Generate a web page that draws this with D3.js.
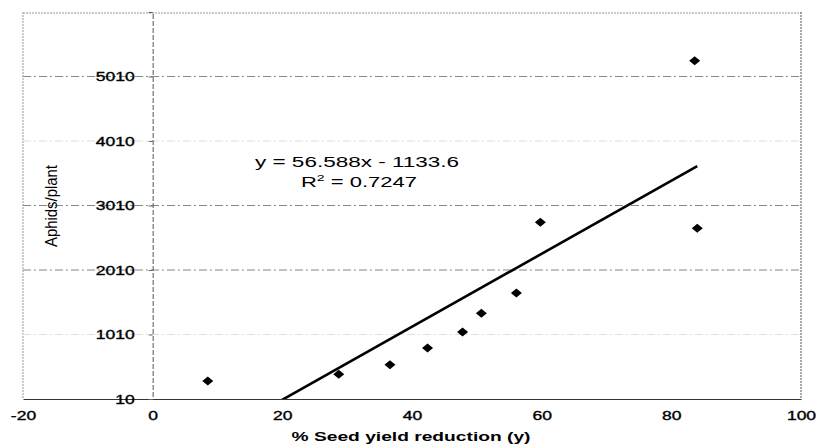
<!DOCTYPE html>
<html>
<head>
<meta charset="utf-8">
<script src="https://cdn.jsdelivr.net/npm/d3@7"></script>
<style>
  body { margin: 0; background: #fff; }
  text { font-family: "Liberation Sans", Arial, sans-serif; fill: #000; }
</style>
</head>
<body>
<div id="chart"></div>
<script>
// data
var seedLoss = [8.5, 28.7, 36.6, 42.4, 47.8, 50.7, 56.1, 59.8, 83.6, 84.0];
var aphids   = [290, 393, 542, 800, 1049, 1338, 1653, 2749, 5254, 2656];
var xTicks = [-20, 0, 20, 40, 60, 80, 100];
var yTicks = [10, 1010, 2010, 3010, 4010, 5010];
var slope = 56.588, intercept = -1133.6;
var eqText = "y = 56.588x - 1133.6";

// settings
var W = 817, H = 445;
var plotL = 23, plotR = 801, plotT = 12, plotB = 399;

var svg = d3.select("#chart").append("svg")
    .attr("width", W)
    .attr("height", H);

var x = d3.scaleLinear().domain([-20, 100]).range([plotL, plotR]);
var y = d3.scaleLinear().domain([10, 6010]).range([plotB, plotT]);

// plain hyphen for negatives, like the original
var fmt = function(d) { return String(d); };

// stretch text sideways like the scanned original
function stretch(sel, k) {
  sel.each(function() {
    var l = this.getComputedTextLength();
    this.setAttribute("textLength", l * k);
    this.setAttribute("lengthAdjust", "spacingAndGlyphs");
  });
}

// plot frame
svg.append("line").attr("x1", plotL).attr("x2", plotR).attr("y1", plotT + 1).attr("y2", plotT + 1)
  .attr("stroke", "#999").attr("stroke-dasharray", "2,1");
svg.append("line").attr("x1", plotL).attr("x2", plotL).attr("y1", plotT).attr("y2", plotB)
  .attr("stroke", "#999").attr("stroke-dasharray", "2,1");
svg.append("line").attr("x1", plotR).attr("x2", plotR).attr("y1", plotT).attr("y2", plotB)
  .attr("stroke", "#555").attr("stroke-dasharray", "2,1");

// gridlines
svg.append("g").selectAll("line")
  .data(yTicks.slice(1))
  .enter().append("line")
    .attr("x1", plotL).attr("x2", plotR)
    .attr("y1", function(d) { return y(d); })
    .attr("y2", function(d) { return y(d); })
    .attr("stroke", function(d, i) { return (i == 0 || i == 3) ? "#ddd" : "#888"; })
    .attr("stroke-dasharray", "8,3,2,3");

// x axis along the bottom
var xAxis = svg.append("g")
  .attr("transform", "translate(0," + plotB + ")")
  .call(d3.axisBottom(x).tickValues(xTicks).tickSize(0).tickPadding(12).tickFormat(fmt));
xAxis.select(".domain").attr("stroke", "#333").attr("stroke-width", 1.2);
xAxis.selectAll("text").attr("font-size", 12.5).attr("stroke", "#000").attr("stroke-width", 0.35)
  .call(stretch, 1.4);

// y axis crosses at x = 0
var yAxis = svg.append("g")
  .attr("transform", "translate(" + x(0) + ",0)")
  .call(d3.axisLeft(y).tickValues(yTicks).tickSize(4).tickPadding(14).tickFormat(fmt));
yAxis.select(".domain").attr("stroke", "#555").attr("stroke-dasharray", "5,2");
yAxis.selectAll(".tick line").attr("stroke", "#666");
yAxis.selectAll("text").attr("font-size", 12.5).attr("stroke", "#000").attr("stroke-width", 0.35)
  .call(stretch, 1.4);

// axis titles
svg.append("text")
  .attr("x", 411).attr("y", 441)
  .attr("text-anchor", "middle")
  .attr("font-size", 12.5).attr("font-weight", "bold")
  .attr("textLength", 239).attr("lengthAdjust", "spacingAndGlyphs")
  .text("% Seed yield reduction (y)");

svg.append("text")
  .attr("transform", "translate(57,206) rotate(-90)")
  .attr("text-anchor", "middle")
  .attr("font-size", 16)
  .attr("textLength", 82).attr("lengthAdjust", "spacingAndGlyphs")
  .text("Aphids/plant");

// trend line, clipped to the plot
svg.append("clipPath").attr("id", "plot")
  .append("rect").attr("x", plotL).attr("y", plotT)
  .attr("width", plotR - plotL).attr("height", plotB - plotT);

var xr = d3.extent(seedLoss);
var trend = xr.map(function(v) { return [v, slope * v + intercept]; });
svg.append("path")
  .datum(trend)
  .attr("clip-path", "url(#plot)")
  .attr("fill", "none")
  .attr("stroke", "#000")
  .attr("stroke-width", 2.6)
  .attr("d", d3.line()
    .x(function(d) { return x(d[0]); })
    .y(function(d) { return y(d[1]); }));

// points
svg.append("g").selectAll("path")
  .data(seedLoss)
  .enter().append("path")
    .attr("transform", function(d, i) { return "translate(" + x(d) + "," + y(aphids[i]) + ")"; })
    .attr("d", "M0,-4.5L5.5,0L0,4.5L-5.5,0Z")
    .attr("fill", "#000");

// equation label
var eq = svg.append("text").attr("text-anchor", "middle").attr("font-size", 14);
eq.append("tspan").attr("x", 357).attr("y", 167)
  .attr("textLength", 204).attr("lengthAdjust", "spacingAndGlyphs")
  .text(eqText);
var r2 = svg.append("text").attr("text-anchor", "middle").attr("font-size", 14)
  .attr("x", 359).attr("y", 187);
r2.append("tspan").text("R");
r2.append("tspan").attr("font-size", 9).attr("dy", -6).text("2");
r2.append("tspan").attr("dy", 6).text(" = 0.7247");
r2.attr("textLength", 116).attr("lengthAdjust", "spacingAndGlyphs");
</script>
</body>
</html>
